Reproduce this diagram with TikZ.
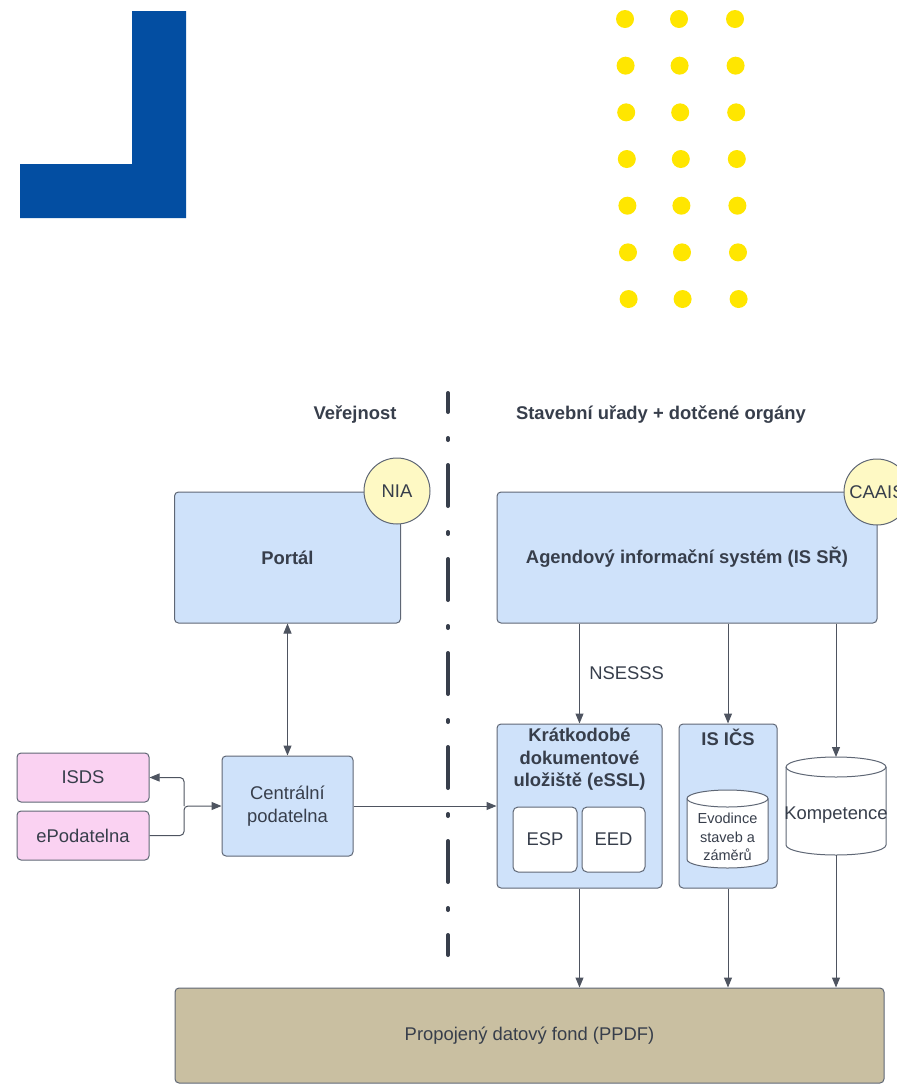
\documentclass[tikz,border=0pt]{standalone}
\usepackage{fontspec}
\setmainfont{Liberation Sans}
\usetikzlibrary{arrows.meta,calc}
\definecolor{lblue}{RGB}{3,78,162}
\definecolor{dotyellow}{RGB}{255,230,0}
\definecolor{boxblue}{RGB}{207,226,250}
\definecolor{boxpink}{RGB}{250,210,242}
\definecolor{boxtan}{RGB}{201,191,161}
\definecolor{circyellow}{RGB}{254,249,196}
\definecolor{edgegray}{RGB}{95,103,117}
\definecolor{txtgray}{RGB}{55,62,75}
\definecolor{linegray}{RGB}{78,84,96}
\def\drum[#1](#2)(#3:#4){\draw[#1] ($(#2.north west)+(0,#4)$) -- ($(#2.south west)+(0,-#4)$) arc[start angle=180, end angle=0, x radius=#3, y radius=#4] -- ($(#2.north east)+(0,#4)$) arc[start angle=0, end angle=-180, x radius=#3, y radius=#4] -- cycle; \draw[#1, fill=none] ($(#2.north west)+(0,#4)$) arc[start angle=180, end angle=0, x radius=#3, y radius=#4];}
\tikzset{
	box/.style={draw=edgegray, line width=1pt, fill=boxblue, rounded corners=4pt, inner sep=0pt, text=txtgray, align=center, font=\fontsize{18.4}{22.5}\selectfont},
	pinkbox/.style={box, fill=boxpink},
	whitebox/.style={box, fill=white, rounded corners=5pt},
	badge/.style={circle, draw=edgegray, line width=1pt, fill=circyellow, minimum size=66pt, inner sep=0pt, text=txtgray, font=\fontsize{18.4}{22.5}\selectfont},
	dbspot/.style={inner sep=0pt, outer sep=0pt},
	dbline/.style={draw=edgegray, line width=1pt, fill=white},
	dbtxt/.style={text=txtgray, align=center, inner sep=0pt},
	headtxt/.style={text=txtgray, align=center, font=\bfseries\fontsize{18.4}{22.5}\selectfont},
	conn/.style={draw=linegray, line width=1pt, -{Triangle[length=10pt,width=8pt]}}
}

\begin{document}
\begin{tikzpicture}[x=1pt, y=-1pt]
			%%%%% START %%%%%
			\useasboundingbox (0, 0) rectangle (897, 1085);
			\clip (0, 0) rectangle (897, 1085);
			
			\fill[lblue] (132, 11) -- (186, 11) -- (186, 218) -- (20, 218) -- (20, 164) -- (132, 164) -- cycle;
			
			\foreach \r in {0,...,6}
				\foreach \c/\cx in {0/625, 1/679, 2/735}
					\fill[dotyellow] ({\cx + 0.6*\r}, {19 + 46.67*\r}) circle (9);
			
			\draw[line width=4pt, color=txtgray, line cap=round, dash pattern=on 41pt off 26pt on 2pt off 25pt, dash phase=22pt] (448, 393) -- (448, 955);
			
			\node[headtxt] (pubhead) at (355, 415) {Veřejnost};
			\node[headtxt] (offhead) at (661, 415) {Stavební uřady + dotčené orgány};
			
			\node[box, minimum width=226pt, minimum height=131pt, font=\bfseries\fontsize{18.4}{22.5}\selectfont] (portal) at (287.5, 557.5) {Portál};
			\node[badge] (nia) at (397, 491) {NIA};
			
			\node[box, minimum width=380pt, minimum height=131pt, font=\bfseries\fontsize{18.4}{22.5}\selectfont] (ais) at (687, 557.5) {Agendový informační systém (IS SŘ)};
			\node[badge] (caais) at (877, 492) {CAAIS};
			
			\node[pinkbox, minimum width=132pt, minimum height=49pt] (isds) at (83, 777.5) {ISDS};
			\node[pinkbox, minimum width=132pt, minimum height=49pt] (epod) at (83, 835.5) {ePodatelna};
			\node[box, minimum width=131pt, minimum height=100pt] (cp) at (287.5, 806) {Centrální\\podatelna};
			\coordinate (fork) at (184, 806);
			
			\node[box, minimum width=165pt, minimum height=164pt] (essl) at (579.5, 806) {};
			\node[headtxt] (essltitle) at (579.5, 759.5) {Krátkodobé\\dokumentové\\uložiště (eSSL)};
			\node[whitebox, minimum width=64pt, minimum height=65pt] (esp) at (545, 839.5) {ESP};
			\node[whitebox, minimum width=63pt, minimum height=65pt] (eed) at (613.5, 839.5) {EED};
			
			\node[box, minimum width=98pt, minimum height=164pt] (ics) at (728, 806) {};
			\node[headtxt] (icstitle) at (728, 737) {IS IČS};
			\node[dbspot, minimum width=81pt, minimum height=78pt] (evid) at (727.5, 829) {};
			\drum[dbline](evid)(40.5:8.5)
			\node[dbtxt, font=\fontsize{14.5}{18.5}\selectfont] (evidtxt) at (727.5, 837) {Evodince\\staveb a\\záměrů};
			
			\node[dbspot, minimum width=100pt, minimum height=98pt] (komp) at (836, 806) {};
			\drum[dbline](komp)(50:10)
			\node[dbtxt, font=\fontsize{18.4}{22.5}\selectfont] (komptxt) at (836, 815) {Kompetence};
			
			\node[box, fill=boxtan, minimum width=709pt, minimum height=95pt] (ppdf) at (529.5, 1035.5) {Propojený datový fond (PPDF)};
			
			\draw[conn, {Triangle[length=10pt,width=8pt]}-{Triangle[length=10pt,width=8pt]}] (portal.south) -- (cp.north);
			\draw[conn, rounded corners=4pt] (epod.east) -| (fork) -- (cp.west);
			\draw[conn, rounded corners=4pt] (fork) |- (isds.east);
			\draw[conn] (cp.east) -- (essl.west);
			
			\draw[conn] (ais.south -| essl.north) -- (essl.north) node[midway, right=6pt, text=txtgray, font=\fontsize{18.4}{22.5}\selectfont] {NSESSS};
			\draw[conn] (ais.south -| ics.north) -- (ics.north);
			\draw[conn] (ais.south -| komp.north) -- (komp.north);
			
			\draw[conn] (essl.south) -- (essl.south |- ppdf.north);
			\draw[conn] (ics.south) -- (ics.south |- ppdf.north);
			\draw[conn] (komp.south) -- (komp.south |- ppdf.north);
			%%%%% END %%%%%
\end{tikzpicture}
\end{document}
